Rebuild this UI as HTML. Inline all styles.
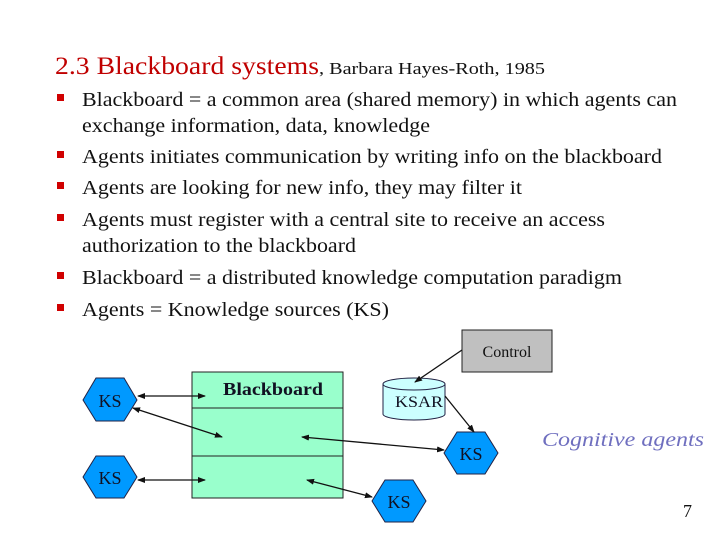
<!DOCTYPE html>
<html><head><meta charset="utf-8"><style>
body{margin:0;background:#fff}
svg{display:block}
</style></head><body>
<svg width="720" height="540" viewBox="0 0 720 540" xmlns="http://www.w3.org/2000/svg" font-family="'Liberation Serif', 'Times New Roman', Times, serif">
<defs>
<marker id="a" markerWidth="8" markerHeight="8" refX="7" refY="4" orient="auto-start-reverse" markerUnits="userSpaceOnUse"><path d="M0,1 L8,4 L0,7 z" fill="#111"/></marker>
</defs>
<text x="55" y="74" font-size="25" fill="#c00000" textLength="264" lengthAdjust="spacingAndGlyphs">2.3 Blackboard systems</text>
<text x="319" y="74" font-size="17" fill="#111" textLength="226" lengthAdjust="spacingAndGlyphs">, Barbara Hayes-Roth, 1985</text>
<g fill="#d00000">
<rect x="57" y="94" width="7" height="7"/><rect x="57" y="151" width="7" height="7"/><rect x="57" y="182" width="7" height="7"/><rect x="57" y="214" width="7" height="7"/><rect x="57" y="272" width="7" height="7"/><rect x="57" y="304" width="7" height="7"/>
</g>
<g font-size="20" fill="#111">
<text x="82" y="106" textLength="595" lengthAdjust="spacingAndGlyphs">Blackboard = a common area (shared memory) in which agents can</text>
<text x="82" y="132" textLength="348" lengthAdjust="spacingAndGlyphs">exchange information, data, knowledge</text>
<text x="82" y="163" textLength="580" lengthAdjust="spacingAndGlyphs">Agents initiates communication by writing info on the blackboard</text>
<text x="82" y="194" textLength="440" lengthAdjust="spacingAndGlyphs">Agents are looking for new info, they may filter it</text>
<text x="82" y="226" textLength="523" lengthAdjust="spacingAndGlyphs">Agents must register with a central site to receive an access</text>
<text x="82" y="252" textLength="274" lengthAdjust="spacingAndGlyphs">authorization to the blackboard</text>
<text x="82" y="284" textLength="540" lengthAdjust="spacingAndGlyphs">Blackboard = a distributed knowledge computation paradigm</text>
<text x="82" y="316" textLength="307" lengthAdjust="spacingAndGlyphs">Agents = Knowledge sources (KS)</text>
</g>
<rect x="192" y="372" width="151" height="126" fill="#99ffcc" stroke="#222" stroke-width="1"/>
<line x1="192" y1="408" x2="343" y2="408" stroke="#222"/>
<line x1="192" y1="456" x2="343" y2="456" stroke="#222"/>
<text x="223" y="395" font-size="18" font-weight="bold" fill="#112" textLength="100" lengthAdjust="spacingAndGlyphs">Blackboard</text>
<rect x="462" y="330" width="90" height="42" fill="#c0c0c0" stroke="#222"/>
<text x="507" y="357" font-size="16" text-anchor="middle" fill="#111">Control</text>
<path d="M383,384 L383,414 A31,6 0 0 0 445,414 L445,384" fill="#ccffff" stroke="#224"/>
<ellipse cx="414" cy="384" rx="31" ry="6" fill="#ccffff" stroke="#224"/>
<text x="395" y="407" font-size="16" fill="#112" textLength="48" lengthAdjust="spacingAndGlyphs">KSAR</text>
<g fill="#0099ff" stroke="#224" stroke-width="1">
<polygon points="83,400 96,378 124,378 137,400 124,421 96,421"/>
<polygon points="83,477 96,456 124,456 137,477 124,498 96,498"/>
<polygon points="444,453 457,432 485,432 498,453 485,474 457,474"/>
<polygon points="372,501 385,480 413,480 426,501 413,522 385,522"/>
</g>
<g font-size="18" fill="#112" text-anchor="middle">
<text x="110" y="407">KS</text><text x="110" y="484">KS</text><text x="471" y="460">KS</text><text x="399" y="508">KS</text>
</g>
<g stroke="#111" stroke-width="1.3" marker-start="url(#a)" marker-end="url(#a)">
<line x1="138" y1="396" x2="205" y2="396"/>
<line x1="133" y1="408" x2="222" y2="437"/>
<line x1="302" y1="437" x2="444" y2="450"/>
<line x1="138" y1="480" x2="205" y2="480"/>
<line x1="307" y1="480" x2="372" y2="497"/>
</g>
<g stroke="#111" stroke-width="1.3" marker-end="url(#a)">
<line x1="462" y1="350" x2="415" y2="382"/>
<line x1="445" y1="396" x2="474" y2="432"/>
</g>
<text x="542" y="446" font-size="20" font-style="italic" fill="#6f6fbf" textLength="162" lengthAdjust="spacingAndGlyphs">Cognitive agents</text>
<text x="683" y="517" font-size="18" fill="#111">7</text>
</svg>
</body></html>
